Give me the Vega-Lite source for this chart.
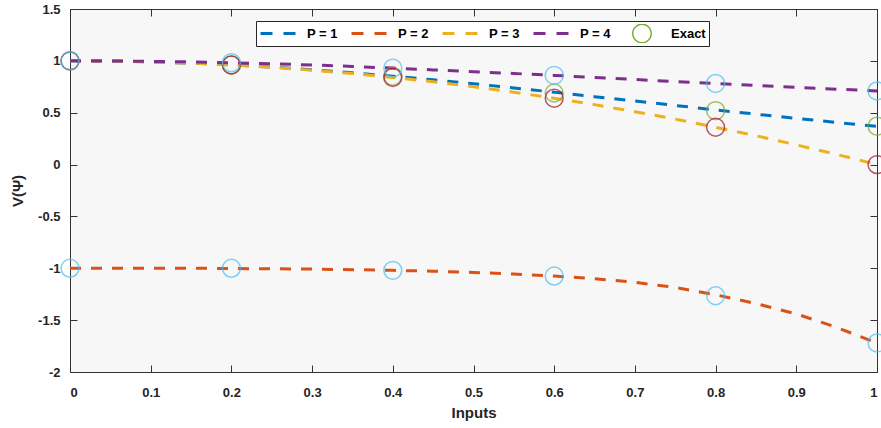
{
  "$schema": "https://vega.github.io/schema/vega-lite/v6.json",
  "width": 807,
  "height": 363,
  "autosize": {"type": "none"},
  "padding": {"left": 70, "top": 9, "right": 4, "bottom": 56},
  "background": "white",
  "config": {
    "font": "Liberation Sans",
    "view": {"stroke": "#333333", "strokeWidth": 1, "fill": "#F7F7F7"},
    "axis": {
      "domain": false,
      "grid": false,
      "tickColor": "#333333",
      "tickSize": 7,
      "offset": -7,
      "labelFont": "Liberation Sans",
      "labelFontWeight": "bold",
      "labelFontSize": 13,
      "labelColor": "#262626",
      "titleFont": "Liberation Sans",
      "titleFontWeight": "bold",
      "titleFontSize": 15,
      "titleColor": "#262626"
    }
  },
  "datasets": {
    "lines": [
      {"x": 0, "y": 1, "series": "P = 1"}, {"x": 0.05, "y": 1.0, "series": "P = 1"}, {"x": 0.1, "y": 0.99, "series": "P = 1"}, {"x": 0.15, "y": 0.978, "series": "P = 1"}, {"x": 0.2, "y": 0.961, "series": "P = 1"}, {"x": 0.25, "y": 0.94, "series": "P = 1"}, {"x": 0.3, "y": 0.914, "series": "P = 1"}, {"x": 0.35, "y": 0.885, "series": "P = 1"}, {"x": 0.4, "y": 0.852, "series": "P = 1"}, {"x": 0.45, "y": 0.817, "series": "P = 1"}, {"x": 0.5, "y": 0.779, "series": "P = 1"}, {"x": 0.55, "y": 0.739, "series": "P = 1"}, {"x": 0.6, "y": 0.698, "series": "P = 1"}, {"x": 0.65, "y": 0.655, "series": "P = 1"}, {"x": 0.7, "y": 0.613, "series": "P = 1"}, {"x": 0.75, "y": 0.57, "series": "P = 1"}, {"x": 0.8, "y": 0.527, "series": "P = 1"}, {"x": 0.85, "y": 0.486, "series": "P = 1"}, {"x": 0.9, "y": 0.445, "series": "P = 1"}, {"x": 0.95, "y": 0.406, "series": "P = 1"}, {"x": 1, "y": 0.368, "series": "P = 1"},
      {"x": 0, "y": -1, "series": "P = 2"}, {"x": 0.05, "y": -1.0, "series": "P = 2"}, {"x": 0.1, "y": -1.0, "series": "P = 2"}, {"x": 0.15, "y": -1.0, "series": "P = 2"}, {"x": 0.2, "y": -1.002, "series": "P = 2"}, {"x": 0.25, "y": -1.005, "series": "P = 2"}, {"x": 0.3, "y": -1.008, "series": "P = 2"}, {"x": 0.35, "y": -1.013, "series": "P = 2"}, {"x": 0.4, "y": -1.02, "series": "P = 2"}, {"x": 0.45, "y": -1.028, "series": "P = 2"}, {"x": 0.5, "y": -1.04, "series": "P = 2"}, {"x": 0.55, "y": -1.055, "series": "P = 2"}, {"x": 0.6, "y": -1.075, "series": "P = 2"}, {"x": 0.65, "y": -1.1, "series": "P = 2"}, {"x": 0.7, "y": -1.135, "series": "P = 2"}, {"x": 0.75, "y": -1.185, "series": "P = 2"}, {"x": 0.8, "y": -1.255, "series": "P = 2"}, {"x": 0.85, "y": -1.34, "series": "P = 2"}, {"x": 0.9, "y": -1.44, "series": "P = 2"}, {"x": 0.95, "y": -1.57, "series": "P = 2"}, {"x": 1, "y": -1.72, "series": "P = 2"},
      {"x": 0, "y": 1, "series": "P = 3"}, {"x": 0.05, "y": 0.998, "series": "P = 3"}, {"x": 0.1, "y": 0.99, "series": "P = 3"}, {"x": 0.15, "y": 0.978, "series": "P = 3"}, {"x": 0.2, "y": 0.96, "series": "P = 3"}, {"x": 0.25, "y": 0.938, "series": "P = 3"}, {"x": 0.3, "y": 0.91, "series": "P = 3"}, {"x": 0.35, "y": 0.878, "series": "P = 3"}, {"x": 0.4, "y": 0.84, "series": "P = 3"}, {"x": 0.45, "y": 0.798, "series": "P = 3"}, {"x": 0.5, "y": 0.75, "series": "P = 3"}, {"x": 0.55, "y": 0.698, "series": "P = 3"}, {"x": 0.6, "y": 0.64, "series": "P = 3"}, {"x": 0.65, "y": 0.578, "series": "P = 3"}, {"x": 0.7, "y": 0.51, "series": "P = 3"}, {"x": 0.75, "y": 0.438, "series": "P = 3"}, {"x": 0.8, "y": 0.36, "series": "P = 3"}, {"x": 0.85, "y": 0.278, "series": "P = 3"}, {"x": 0.9, "y": 0.19, "series": "P = 3"}, {"x": 0.95, "y": 0.098, "series": "P = 3"}, {"x": 1, "y": 0.0, "series": "P = 3"},
      {"x": 0, "y": 1, "series": "P = 4"}, {"x": 0.05, "y": 0.999, "series": "P = 4"}, {"x": 0.1, "y": 0.995, "series": "P = 4"}, {"x": 0.15, "y": 0.99, "series": "P = 4"}, {"x": 0.2, "y": 0.982, "series": "P = 4"}, {"x": 0.25, "y": 0.972, "series": "P = 4"}, {"x": 0.3, "y": 0.96, "series": "P = 4"}, {"x": 0.35, "y": 0.946, "series": "P = 4"}, {"x": 0.4, "y": 0.93, "series": "P = 4"}, {"x": 0.45, "y": 0.913, "series": "P = 4"}, {"x": 0.5, "y": 0.896, "series": "P = 4"}, {"x": 0.55, "y": 0.878, "series": "P = 4"}, {"x": 0.6, "y": 0.86, "series": "P = 4"}, {"x": 0.65, "y": 0.84, "series": "P = 4"}, {"x": 0.7, "y": 0.82, "series": "P = 4"}, {"x": 0.75, "y": 0.8, "series": "P = 4"}, {"x": 0.8, "y": 0.782, "series": "P = 4"}, {"x": 0.85, "y": 0.763, "series": "P = 4"}, {"x": 0.9, "y": 0.745, "series": "P = 4"}, {"x": 0.95, "y": 0.727, "series": "P = 4"}, {"x": 1, "y": 0.71, "series": "P = 4"}
    ],
    "rings": [
      {"x": 0, "y": 1, "ring": "Exact"}, {"x": 0.2, "y": 0.96, "ring": "Exact"}, {"x": 0.4, "y": 0.852, "ring": "Exact"}, {"x": 0.6, "y": 0.69, "ring": "Exact"}, {"x": 0.8, "y": 0.52, "ring": "Exact"}, {"x": 1, "y": 0.37, "ring": "Exact"},
      {"x": 0, "y": 1, "ring": "red"}, {"x": 0.2, "y": 0.96, "ring": "red"}, {"x": 0.4, "y": 0.84, "ring": "red"}, {"x": 0.6, "y": 0.64, "ring": "red"}, {"x": 0.8, "y": 0.36, "ring": "red"}, {"x": 1, "y": 0.0, "ring": "red"},
      {"x": 0, "y": -1, "ring": "blue"}, {"x": 0.2, "y": -1.0, "ring": "blue"}, {"x": 0.4, "y": -1.02, "ring": "blue"}, {"x": 0.6, "y": -1.075, "ring": "blue"}, {"x": 0.8, "y": -1.265, "ring": "blue"}, {"x": 1, "y": -1.72, "ring": "blue"},
      {"x": 0, "y": 1, "ring": "blue"}, {"x": 0.2, "y": 0.982, "ring": "blue"}, {"x": 0.4, "y": 0.93, "ring": "blue"}, {"x": 0.6, "y": 0.86, "ring": "blue"}, {"x": 0.8, "y": 0.782, "ring": "blue"}, {"x": 1, "y": 0.71, "ring": "blue"}
    ]
  },
  "resolve": {"axis": {"x": "independent", "y": "independent"}},
  "layer": [
    {
      "data": {"name": "lines"},
      "mark": {"type": "line", "strokeWidth": 3, "strokeDash": [11, 10], "clip": false},
      "encoding": {
        "x": {"field": "x", "type": "quantitative", "scale": {"domain": [0, 1], "nice": false},
              "axis": {"orient": "bottom", "title": "Inputs", "values": [0, 0.1, 0.2, 0.3, 0.4, 0.5, 0.6, 0.7, 0.8, 0.9, 1], "labelExpr": "toString(datum.value)", "labelFont": "Liberation Sans Narrow, Liberation Sans", "labelPadding": 14, "titlePadding": 6}},
        "y": {"field": "y", "type": "quantitative", "scale": {"domain": [-2, 1.5], "nice": false},
              "axis": {"orient": "left", "title": "V(Ψ)", "values": [-2, -1.5, -1, -0.5, 0, 0.5, 1, 1.5], "labelExpr": "toString(datum.value)", "labelPadding": 10, "titlePadding": 12}},
        "color": {"field": "series", "type": "nominal",
                  "scale": {"domain": ["P = 1", "P = 2", "P = 3", "P = 4", "Exact"], "range": ["#0072BD", "#D95319", "#EDB120", "#7E2F8E", "#77AC30"]},
                  "legend": {
                    "title": null, "orient": "none", "legendX": 186, "legendY": 12,
                    "direction": "horizontal", "columns": 5, "columnPadding": 12,
                    "fillColor": "white", "strokeColor": "#262626", "padding": 3,
                    "clipHeight": 19,
                    "labelFont": "Liberation Sans", "labelFontWeight": "bold", "labelFontSize": 13, "labelColor": "#000000", "labelOffset": 10,
                    "symbolType": "M -1,0 L 1,0", "symbolSize": 1225, "symbolStrokeWidth": 3, "symbolDash": [12, 11],
                    "encode": {"symbols": {"update": {
                      "shape": {"signal": "datum.value === 'Exact' ? 'M -0.57,0 A 0.57,0.57 0 1,1 0.57,0 A 0.57,0.57 0 1,1 -0.57,0 Z M -0.49,0 A 0.49,0.49 0 1,0 0.49,0 A 0.49,0.49 0 1,0 -0.49,0 Z' : 'M -1,0 L 1,0'"},
                      "fill": {"signal": "datum.value === 'Exact' ? '#77AC30' : 'transparent'"},
                      "fillOpacity": {"value": 1},
                      "strokeOpacity": {"signal": "datum.value === 'Exact' ? 0 : 1"}
                    }}}
                  }}
      }
    },
    {
      "data": {"name": "rings"},
      "transform": [{"filter": "datum.ring === 'Exact'"}],
      "mark": {"type": "point", "shape": "circle", "filled": false, "size": 320, "strokeWidth": 1.5, "clip": false},
      "encoding": {
        "x": {"field": "x", "type": "quantitative", "axis": null},
        "y": {"field": "y", "type": "quantitative", "axis": null},
        "color": {"field": "ring", "type": "nominal", "title": null}
      }
    },
    {
      "data": {"name": "rings"},
      "transform": [{"filter": "datum.ring !== 'Exact'"}],
      "mark": {"type": "point", "shape": "circle", "filled": false, "size": 320, "strokeWidth": 1.5, "clip": false},
      "encoding": {
        "x": {"field": "x", "type": "quantitative", "axis": {"orient": "top", "labels": false, "title": null, "values": [0, 0.1, 0.2, 0.3, 0.4, 0.5, 0.6, 0.7, 0.8, 0.9, 1]}},
        "y": {"field": "y", "type": "quantitative", "axis": {"orient": "right", "labels": false, "title": null, "values": [-2, -1.5, -1, -0.5, 0, 0.5, 1, 1.5]}},
        "stroke": {"field": "ring", "type": "nominal", "scale": {"domain": ["blue", "red"], "range": ["#4DBEEE", "#A2142F"]}, "legend": null}
      }
    }
  ]
}
